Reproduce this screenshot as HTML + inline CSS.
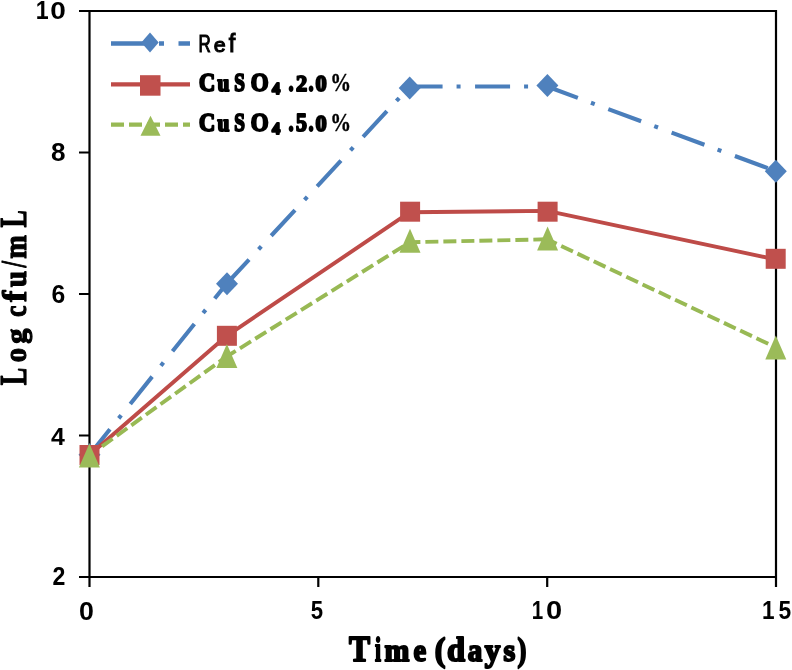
<!DOCTYPE html>
<html>
<head>
<meta charset="utf-8">
<style>
html,body{margin:0;padding:0;background:#fff;}
body{width:792px;height:670px;overflow:hidden;}
svg{display:block;will-change:transform;}
</style>
</head>
<body>
<svg width="792" height="670" viewBox="0 0 792 670">

<g stroke="#000" stroke-width="2.2" fill="none">
<path d="M79 11H776V587M89.5 11V577M79 577H776"/>
<path d="M79 152.5H89.5M79 294H89.5M79 435.5H89.5"/>
<path d="M89.5 577V587M318.3 577V587M547.2 577V587"/>
</g>
<g fill="none" stroke-width="4.3">
<g stroke="#4A7EBB" stroke-width="4.1" stroke-dasharray="35 14 4 14.5" stroke-dashoffset="2.3"><line x1="89.50" y1="454.80" x2="226.80" y2="283.50"/><line x1="226.80" y1="283.50" x2="409.87" y2="86.50"/><line x1="409.87" y1="86.50" x2="547.17" y2="86.50"/><line x1="547.17" y1="86.50" x2="776.00" y2="171.20"/></g>
<polyline stroke="#BE4B48" stroke-width="3.9" stroke-linejoin="round" points="89.50,455.00 226.80,335.80 409.87,212.20 547.17,210.90 776.00,259.50"/>
<g stroke="#98B954" stroke-width="3.9" stroke-dasharray="13 5" stroke-dashoffset="2.5"><line x1="89.50" y1="455.40" x2="226.80" y2="356.50"/><line x1="226.80" y1="356.50" x2="409.87" y2="242.20"/><line x1="409.87" y1="242.20" x2="547.17" y2="239.30"/><line x1="547.17" y1="239.30" x2="776.00" y2="347.50"/></g>
</g>
<g fill="#4F81BD"><path d="M89.50 443.30L100.50 454.80L89.50 466.30L78.50 454.80Z"/><path d="M227.00 272.20L238.00 283.70L227.00 295.20L216.00 283.70Z"/><path d="M409.70 76.50L420.70 88.00L409.70 99.50L398.70 88.00Z"/><path d="M547.40 74.00L558.40 85.50L547.40 97.00L536.40 85.50Z"/><path d="M775.80 159.70L786.80 171.20L775.80 182.70L764.80 171.20Z"/></g>
<g fill="#C0504D"><rect x="79.50" y="445.00" width="20" height="20"/><rect x="216.90" y="325.80" width="20" height="20"/><rect x="400.10" y="201.70" width="20" height="20"/><rect x="537.60" y="201.70" width="20" height="20"/><rect x="765.70" y="248.80" width="20" height="20"/></g>
<g fill="#9BBB59"><path d="M89.40 443.40L99.90 467.40L78.90 467.40Z"/><path d="M226.90 343.90L237.40 367.90L216.40 367.90Z"/><path d="M410.00 228.70L420.50 252.70L399.50 252.70Z"/><path d="M547.60 226.60L558.10 250.60L537.10 250.60Z"/><path d="M775.80 335.50L786.30 359.50L765.30 359.50Z"/></g>
<g fill="none" stroke-width="4.3">
<line x1="111" y1="43.5" x2="190" y2="43.5" stroke="#4A7EBB" stroke-dasharray="34.5 13.5 5 14.5"/>
<line x1="111" y1="84.3" x2="190" y2="84.3" stroke="#BE4B48"/>
<line x1="111" y1="124.6" x2="190" y2="124.6" stroke="#98B954" stroke-dasharray="13 5"/>
</g>
<g fill="#4F81BD"><path d="M150.00 32.50L158.70 42.50L150.00 52.50L141.30 42.50Z"/></g>
<g fill="#C0504D"><rect x="140" y="75.2" width="20.5" height="20.5"/></g>
<g fill="#9BBB59"><path d="M150.50 115.70L160.50 135.70L140.50 135.70Z"/></g>

<g font-family="Liberation Sans" font-weight="bold" fill="#000"><text transform="translate(35.69,18.90) scale(0.908,1)" font-size="25.58">1</text>
<text transform="translate(50.28,18.90) scale(1.133,1)" font-size="24.71">0</text>
<text transform="translate(50.92,160.90) scale(1.031,1)" font-size="25.29">8</text>
<text transform="translate(51.43,303.40) scale(0.946,1)" font-size="26.14">6</text>
<text transform="translate(50.93,444.50) scale(1.009,1)" font-size="24.64">4</text>
<text transform="translate(52.39,584.60) scale(0.930,1)" font-size="24.86">2</text>
<text transform="translate(78.93,619.50) scale(1.012,1)" font-size="26.43">0</text>
<text transform="translate(310.73,619.40) scale(0.832,1)" font-size="26.67">5</text>
<text transform="translate(531.86,619.20) scale(0.778,1)" font-size="26.52">1</text>
<text transform="translate(546.04,619.20) scale(1.111,1)" font-size="26.14">0</text>
<text transform="translate(761.93,619.40) scale(0.847,1)" font-size="26.67">1</text>
<text transform="translate(778.52,619.40) scale(0.855,1)" font-size="26.67">5</text></g>
<g font-family="Liberation Sans" font-weight="normal" fill="#000" stroke="#000" stroke-width="1.1"><text transform="translate(198.59,51.50) scale(0.720,1)" font-size="23.55">R</text>
<text transform="translate(213.78,51.50) scale(1.032,1)" font-size="20.83">e</text>
<text transform="translate(228.80,51.50) scale(0.935,1)" font-size="25.03">f</text></g>
<g font-family="Liberation Serif" font-weight="bold" fill="#000" stroke="#000" stroke-width="2.0" stroke-linejoin="round"><text transform="translate(198.98,90.70) scale(0.908,1)" font-size="24.70">C</text>
<text transform="translate(217.48,90.70) scale(0.927,1)" font-size="23.04">u</text>
<text transform="translate(234.25,90.70) scale(0.775,1)" font-size="24.70">S</text>
<text transform="translate(250.65,90.70) scale(0.929,1)" font-size="24.70">O</text>
<text transform="translate(272.05,93.60) scale(1.001,1)" font-size="16.34">4</text>
<text transform="translate(288.57,90.70) scale(0.729,1)" font-size="28.28">.</text>
<text transform="translate(296.10,90.70) scale(0.930,1)" font-size="24.09">2</text>
<text transform="translate(308.47,90.70) scale(0.729,1)" font-size="28.28">.</text>
<text transform="translate(315.40,90.70) scale(0.936,1)" font-size="23.91">0</text>
<text transform="translate(330.31,90.70) scale(0.825,1)" font-size="25.30" stroke-width="0.4">%</text><text transform="translate(198.98,130.90) scale(0.908,1)" font-size="24.70">C</text>
<text transform="translate(217.48,130.90) scale(0.927,1)" font-size="23.04">u</text>
<text transform="translate(234.25,130.90) scale(0.775,1)" font-size="24.70">S</text>
<text transform="translate(250.65,130.90) scale(0.929,1)" font-size="24.70">O</text>
<text transform="translate(272.05,133.80) scale(1.001,1)" font-size="16.34">4</text>
<text transform="translate(288.57,130.90) scale(0.729,1)" font-size="28.28">.</text>
<text transform="translate(296.12,130.90) scale(0.901,1)" font-size="24.27">5</text>
<text transform="translate(308.47,130.90) scale(0.729,1)" font-size="28.28">.</text>
<text transform="translate(315.40,130.90) scale(0.936,1)" font-size="23.91">0</text>
<text transform="translate(330.31,130.90) scale(0.825,1)" font-size="25.30" stroke-width="0.4">%</text></g>
<g font-family="Liberation Serif" font-weight="bold" fill="#000" stroke="#000" stroke-width="2.0" stroke-linejoin="round"><text transform="translate(349.03,661.30) scale(0.864,1)" font-size="36.62">T</text>
<text transform="translate(375.07,661.30) scale(0.646,1)" font-size="33.48">i</text>
<text transform="translate(384.55,661.30) scale(0.955,1)" font-size="31.28">m</text>
<text transform="translate(413.50,661.30) scale(0.914,1)" font-size="31.28">e</text>
<text transform="translate(434.85,661.30) scale(0.961,1)" font-size="33.48">(</text>
<text transform="translate(447.00,661.30) scale(0.970,1)" font-size="33.48">d</text>
<text transform="translate(467.63,661.30) scale(0.928,1)" font-size="31.28">a</text>
<text transform="translate(484.69,661.30) scale(0.978,1)" font-size="31.96">y</text>
<text transform="translate(503.60,661.30) scale(0.964,1)" font-size="31.28">s</text>
<text transform="translate(517.60,661.30) scale(0.793,1)" font-size="33.48">)</text></g>
<g transform="translate(26,400) rotate(-90)" font-family="Liberation Serif" font-weight="bold" fill="#000" stroke="#000" stroke-width="1.2" stroke-linejoin="round"><text transform="translate(14.71,0.00) scale(0.703,1)" font-size="37.08">L</text>
<text transform="translate(37.86,0.00) scale(0.895,1)" font-size="31.91">o</text>
<text transform="translate(56.24,0.00) scale(1.024,1)" font-size="29.61">g</text>
<text transform="translate(83.09,0.00) scale(0.803,1)" font-size="32.34">c</text>
<text transform="translate(97.93,0.00) scale(0.991,1)" font-size="34.43">f</text>
<text transform="translate(112.66,0.00) scale(0.905,1)" font-size="32.61">u</text>
<text transform="translate(132.43,0.00) scale(0.632,1)" font-size="36.49">/</text>
<text transform="translate(141.19,0.00) scale(0.894,1)" font-size="31.70">m</text>
<text transform="translate(172.51,0.00) scale(0.691,1)" font-size="37.23">L</text></g>
</svg>
</body>
</html>
